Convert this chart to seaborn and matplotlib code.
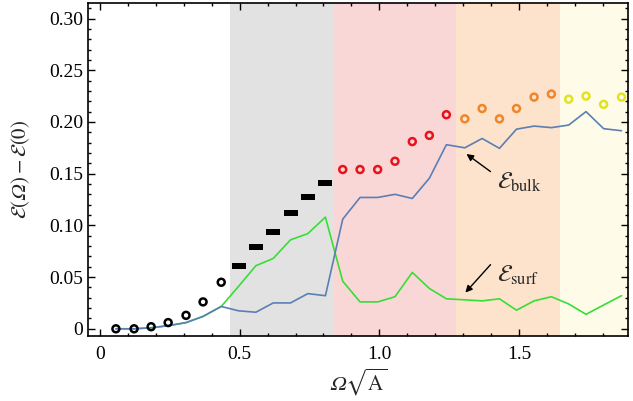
import numpy as np
import pandas as pd
import matplotlib
matplotlib.use("Agg")
import matplotlib.pyplot as plt
import seaborn as sns

# ---- data ----
omega = [0.057, 0.122, 0.183, 0.244, 0.308, 0.369, 0.434,
         0.496, 0.558, 0.620, 0.682, 0.744, 0.807,
         0.869, 0.931, 0.994, 1.056, 1.118, 1.179, 1.240,
         1.306, 1.368, 1.430, 1.491, 1.554, 1.616,
         1.678, 1.740, 1.803, 1.867]
total = [0.000, 0.000, 0.002, 0.006, 0.013, 0.026, 0.045,
         0.061, 0.079, 0.094, 0.112, 0.127, 0.141,
         0.154, 0.154, 0.154, 0.162, 0.181, 0.187, 0.207,
         0.203, 0.213, 0.203, 0.213, 0.224, 0.227,
         0.222, 0.225, 0.217, 0.224]
phase = (["circle0"] * 7 + ["bar"] * 6 + ["red"] * 7 + ["orange"] * 6 + ["yellow"] * 4)
bulk = [0.000, 0.000, 0.001, 0.003, 0.006, 0.012, 0.0216,
        0.0174, 0.016, 0.025, 0.025, 0.034, 0.032,
        0.106, 0.127, 0.127, 0.130, 0.126, 0.1455, 0.178,
        0.175, 0.184, 0.1745, 0.193, 0.196, 0.1945,
        0.197, 0.210, 0.1935, 0.1915]
surf = [0.000, 0.000, 0.001, 0.003, 0.006, 0.012, 0.0216,
        0.041, 0.061, 0.068, 0.086, 0.092, 0.108,
        0.046, 0.026, 0.026, 0.031, 0.0545, 0.039, 0.029,
        0.028, 0.027, 0.029, 0.018, 0.027, 0.031,
        0.024, 0.014, 0.023, 0.032]
region_edges = [0.465, 0.838, 1.273, 1.647, 1.89]
region_colors = ["#e2e2e2", "#fad7d7", "#fde3cb", "#fefce8"]
phase_colors = {"circle0": "black", "red": "#e8121c", "orange": "#f0862a", "yellow": "#e2e21e"}

df = pd.DataFrame({"omega": omega, "total": total, "phase": phase,
                   "bulk": bulk, "surf": surf})

sns.set_theme(style="ticks")
plt.rcParams["font.family"] = ["Liberation Serif", "DejaVu Serif"]
plt.rcParams["mathtext.fontset"] = "stix"

fig = plt.figure(figsize=(6.33, 4.01), dpi=100)
ax = fig.add_axes([0.139, 0.162, 0.853, 0.8305])

for i in range(len(region_colors)):
    ax.axvspan(region_edges[i], region_edges[i + 1], color=region_colors[i], lw=0, zorder=0)

sns.lineplot(data=df, x="omega", y="surf", color="#36de36", lw=1.2, ax=ax, zorder=2)
sns.lineplot(data=df, x="omega", y="bulk", color="#5b7fb5", lw=1.2, ax=ax, zorder=2)

circ = df[df.phase != "bar"]
sns.scatterplot(data=circ, x="omega", y="total", hue="phase", palette=phase_colors,
                marker="o", s=25, facecolor="none", linewidth=1.8, ax=ax,
                legend=False, zorder=3)
coll = ax.collections[-1]
coll.set_edgecolors([phase_colors[p] for p in circ.phase])
coll.set_facecolors("none")

bars = df[df.phase == "bar"]
rect = [(-1.3, -0.5), (1.3, -0.5), (1.3, 0.5), (-1.3, 0.5), (-1.3, -0.5)]
sns.scatterplot(data=bars, x="omega", y="total", marker=rect, s=90, color="black",
                linewidth=0, ax=ax, legend=False, zorder=3)

ax.set_xlim(-0.043, 1.89)
ax.set_ylim(-0.007, 0.315)
ax.set_xticks([0, 0.5, 1.0, 1.5])
ax.set_xticklabels(["0", "0.5", "1.0", "1.5"])
ax.set_yticks([0, 0.05, 0.10, 0.15, 0.20, 0.25, 0.30])
ax.set_yticklabels(["0", "0.05", "0.10", "0.15", "0.20", "0.25", "0.30"])
ax.xaxis.set_minor_locator(matplotlib.ticker.MultipleLocator(0.1))
ax.yaxis.set_minor_locator(matplotlib.ticker.MultipleLocator(0.01))
ax.tick_params(which="both", direction="in", top=True, right=True, colors="black",
               labelsize=14, width=1.0)
ax.tick_params(which="major", length=5)
ax.tick_params(which="minor", length=2.5)
ax.tick_params(axis="x", which="major", pad=7)
for s in ax.spines.values():
    s.set_color("black")
    s.set_linewidth(1.2)

ax.set_xlabel("$\U0001D6FA\\sqrt{\\mathrm{A}}$", fontsize=15, labelpad=3)
ax.set_ylabel("$\\mathcal{E}(\U0001D6FA)-\\mathcal{E}(0)$", fontsize=15, labelpad=12)

arrow = dict(arrowstyle="-|>", color="black", lw=1.0, mutation_scale=10, shrinkA=0, shrinkB=0)
ax.annotate("", xy=(1.312, 0.169), xytext=(1.398, 0.152), arrowprops=arrow)
ax.text(1.423, 0.1413, r"$\mathcal{E}_{\mathrm{bulk}}$", fontsize=17, ha="left", va="center")
ax.annotate("", xy=(1.308, 0.035), xytext=(1.398, 0.062), arrowprops=arrow)
ax.text(1.423, 0.052, r"$\mathcal{E}_{\mathrm{surf}}$", fontsize=17, ha="left", va="center")

fig.savefig("out.png", dpi=100)
